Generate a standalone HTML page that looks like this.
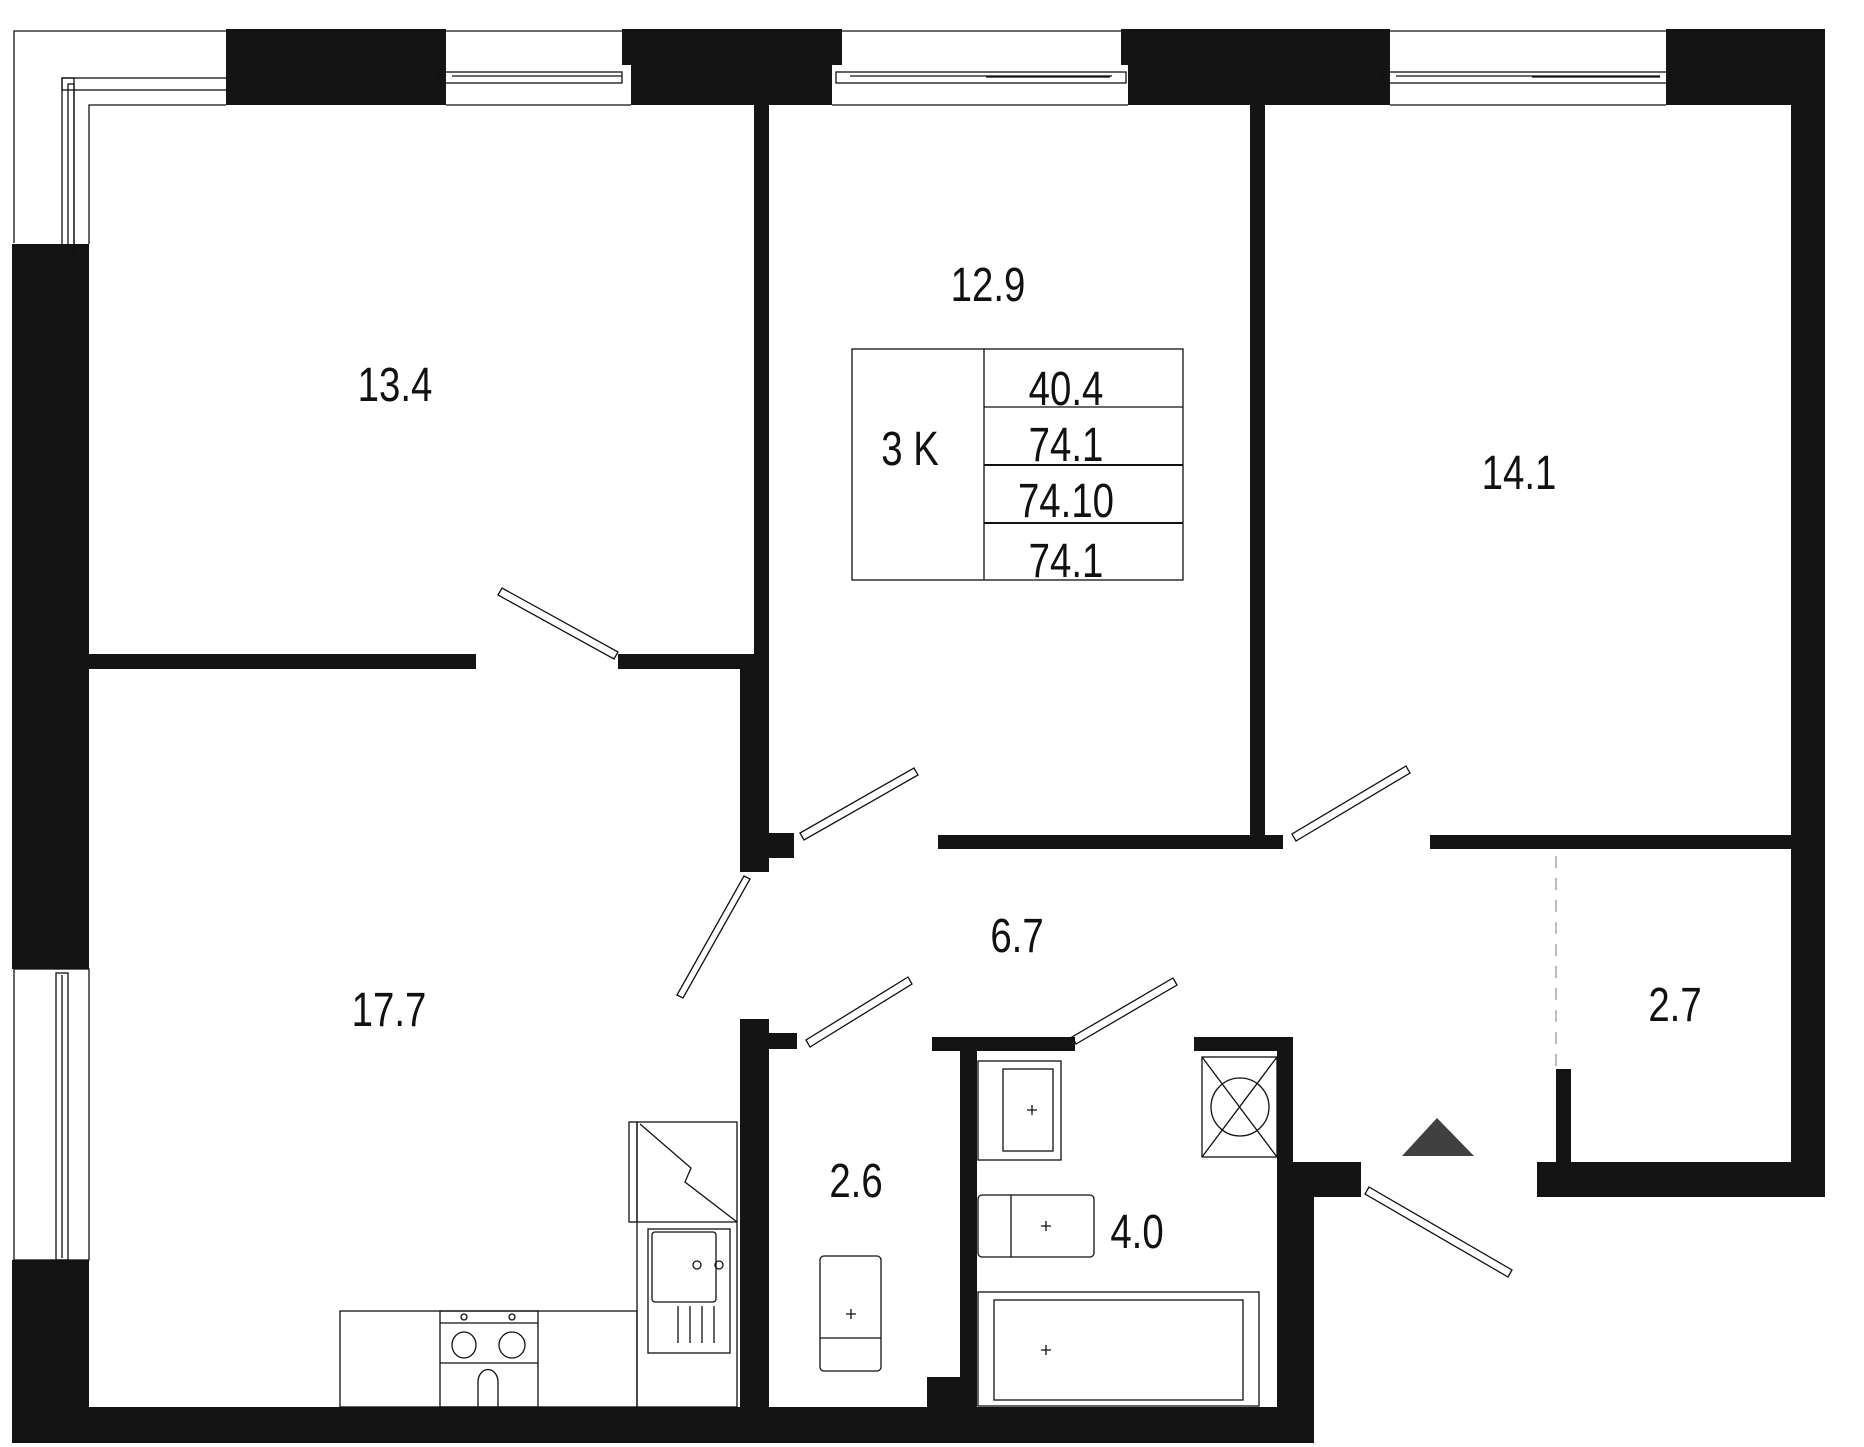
<!DOCTYPE html>
<html><head><meta charset="utf-8"><style>
html,body{margin:0;padding:0;background:#fff;}
svg{display:block;}
text{font-family:"Liberation Sans Narrow","Liberation Sans",sans-serif;fill:#111;text-anchor:middle;}
</style></head><body>
<svg width="1864" height="1447" viewBox="0 0 1864 1447" xmlns="http://www.w3.org/2000/svg">
<g fill="#141414">
<rect x="226" y="29" width="220" height="76"/>
<rect x="622" y="29" width="220" height="36"/><rect x="631" y="29" width="201" height="76"/>
<rect x="1121" y="29" width="269" height="36"/><rect x="1128" y="29" width="262" height="76"/>
<rect x="1666" y="29" width="159" height="76"/>
<rect x="1791" y="29" width="34" height="1168"/>
<rect x="1537" y="1162" width="288" height="35"/>
<rect x="1556" y="1069" width="15" height="100"/>
<rect x="12" y="244" width="77" height="725"/>
<rect x="12" y="1260" width="77" height="182"/>
<rect x="12" y="1407" width="1302" height="36"/>
<rect x="754" y="105" width="15" height="737"/>
<rect x="740" y="654" width="29" height="218"/>
<rect x="89" y="654" width="387" height="15"/>
<rect x="618" y="654" width="136" height="15"/>
<rect x="769" y="833" width="25" height="25"/>
<rect x="1250" y="105" width="15" height="744"/>
<rect x="938" y="835" width="345" height="14"/>
<rect x="1430" y="835" width="361" height="14"/>
<rect x="740" y="1019" width="29" height="400"/>
<rect x="769" y="1033" width="28" height="16"/>
<rect x="927" y="1377" width="36" height="40"/>
<rect x="932" y="1037" width="143" height="14"/>
<rect x="960" y="1037" width="17" height="400"/>
<rect x="1194" y="1037" width="99" height="14"/>
<rect x="1277" y="1037" width="16" height="160"/>
<rect x="1277" y="1162" width="84" height="35"/>
<rect x="1277" y="1162" width="37" height="280"/>
</g>
<g fill="none" stroke="#111" stroke-width="1.3">
<path d="M14 243 V31 H226 M446 31 H622 M842 31 H1121 M1390 31 H1666"/>
<path d="M89 244 V105 H226 M446 105 H631 M832 105 H1128 M1390 105 H1666"/>
<rect x="62" y="78" width="170" height="12"/><rect x="62" y="78" width="12" height="175"/>
<rect x="68" y="84" width="6" height="165"/>
<rect x="438" y="72" width="184" height="11"/><line x1="452" y1="76" x2="622" y2="76"/>
<rect x="836" y="72" width="290" height="11"/><line x1="850" y1="76" x2="1112" y2="76"/><line x1="986" y1="77" x2="1110" y2="77"/>
<rect x="1382" y="72" width="290" height="11"/><line x1="1396" y1="76" x2="1660" y2="76"/><line x1="1532" y1="77" x2="1660" y2="77"/>
<rect x="14" y="969" width="75" height="291"/><rect x="56" y="973" width="12" height="287"/><line x1="62" y1="975" x2="62" y2="1258"/>
<line x1="1556" y1="856" x2="1556" y2="1069" stroke="#999" stroke-dasharray="12,10"/>
<rect x="852" y="349" width="331" height="231"/>
<line x1="984" y1="349" x2="984" y2="580"/>
<line x1="984" y1="407" x2="1183" y2="407"/>
<line x1="984" y1="465" x2="1183" y2="465" stroke-width="2"/>
<line x1="984" y1="523" x2="1183" y2="523" stroke-width="2"/>
<polygon points="498,595 502,588 618,652 614,659"/>
<polygon points="800,833 804,840 918,775 914,768"/>
<polygon points="744,876 750,879 683,998 677,995"/>
<polygon points="806,1040 810,1047 912,984 908,977"/>
<polygon points="1292,834 1296,841 1410,773 1406,766"/>
<polygon points="1072,1037 1076,1044 1177,985 1173,978"/>
<polygon points="1369,1187 1365,1194 1508,1277 1512,1270"/>
<rect x="340" y="1311" width="297" height="96"/>
<rect x="440" y="1311" width="98" height="96"/>
<line x1="440" y1="1323" x2="538" y2="1323"/><line x1="440" y1="1363" x2="538" y2="1363"/>
<ellipse cx="464" cy="1345" rx="12" ry="13"/><ellipse cx="512" cy="1345" rx="13" ry="13"/>
<circle cx="464" cy="1317" r="3"/><circle cx="512" cy="1317" r="3"/>
<path d="M478 1407 V1382 a8 10 0 0 1 20 0 V1407"/>
<rect x="637" y="1122" width="100" height="285"/>
<rect x="629" y="1122" width="8" height="100"/>
<line x1="637" y1="1222" x2="737" y2="1222"/>
<path d="M640 1124 L691 1168 L685 1182 L737 1222"/>
<rect x="648" y="1229" width="82" height="124"/><rect x="652" y="1232" width="64" height="70" rx="3"/>
<circle cx="697" cy="1265" r="4"/><circle cx="719" cy="1265" r="4"/>
<line x1="678" y1="1306" x2="678" y2="1343"/><line x1="690" y1="1306" x2="690" y2="1343"/><line x1="702" y1="1306" x2="702" y2="1343"/><line x1="714" y1="1306" x2="714" y2="1343"/>
<rect x="820" y="1256" width="61" height="115" rx="4"/><line x1="820" y1="1338" x2="881" y2="1338"/>
<rect x="978" y="1061" width="83" height="99"/><rect x="1003" y="1069" width="50" height="82"/>
<rect x="978" y="1195" width="116" height="62" rx="4"/><line x1="1011" y1="1195" x2="1011" y2="1257"/>
<rect x="978" y="1292" width="281" height="114"/><rect x="994" y="1300" width="249" height="100"/>
<rect x="1202" y="1057" width="75" height="100"/><circle cx="1240" cy="1107" r="29"/>
<line x1="1202" y1="1057" x2="1277" y2="1157"/><line x1="1277" y1="1057" x2="1202" y2="1157"/>
<path d="M1027 1110 h10 M1032 1105 v10 M1041 1226 h10 M1046 1221 v10 M1041 1350 h10 M1046 1345 v10 M846 1314 h10 M851 1309 v10"/>
</g>
<polygon points="1402,1156 1437,1118 1474,1156" fill="#404040"/>
<g font-size="48">
<text transform="translate(395,401) scale(0.8,1)">13.4</text>
<text transform="translate(988,301) scale(0.8,1)">12.9</text>
<text transform="translate(1519,489) scale(0.8,1)">14.1</text>
<text transform="translate(389,1026) scale(0.8,1)">17.7</text>
<text transform="translate(1017,952) scale(0.8,1)">6.7</text>
<text transform="translate(1675,1021) scale(0.8,1)">2.7</text>
<text transform="translate(856,1197) scale(0.8,1)">2.6</text>
<text transform="translate(1137,1248) scale(0.8,1)">4.0</text>
<text transform="translate(910,465) scale(0.8,1)">3 K</text>
<text transform="translate(1066,405) scale(0.8,1)">40.4</text>
<text transform="translate(1066,461) scale(0.8,1)">74.1</text>
<text transform="translate(1066,517) scale(0.8,1)">74.10</text>
<text transform="translate(1066,577) scale(0.8,1)">74.1</text>
</g>
</svg>
</body></html>
